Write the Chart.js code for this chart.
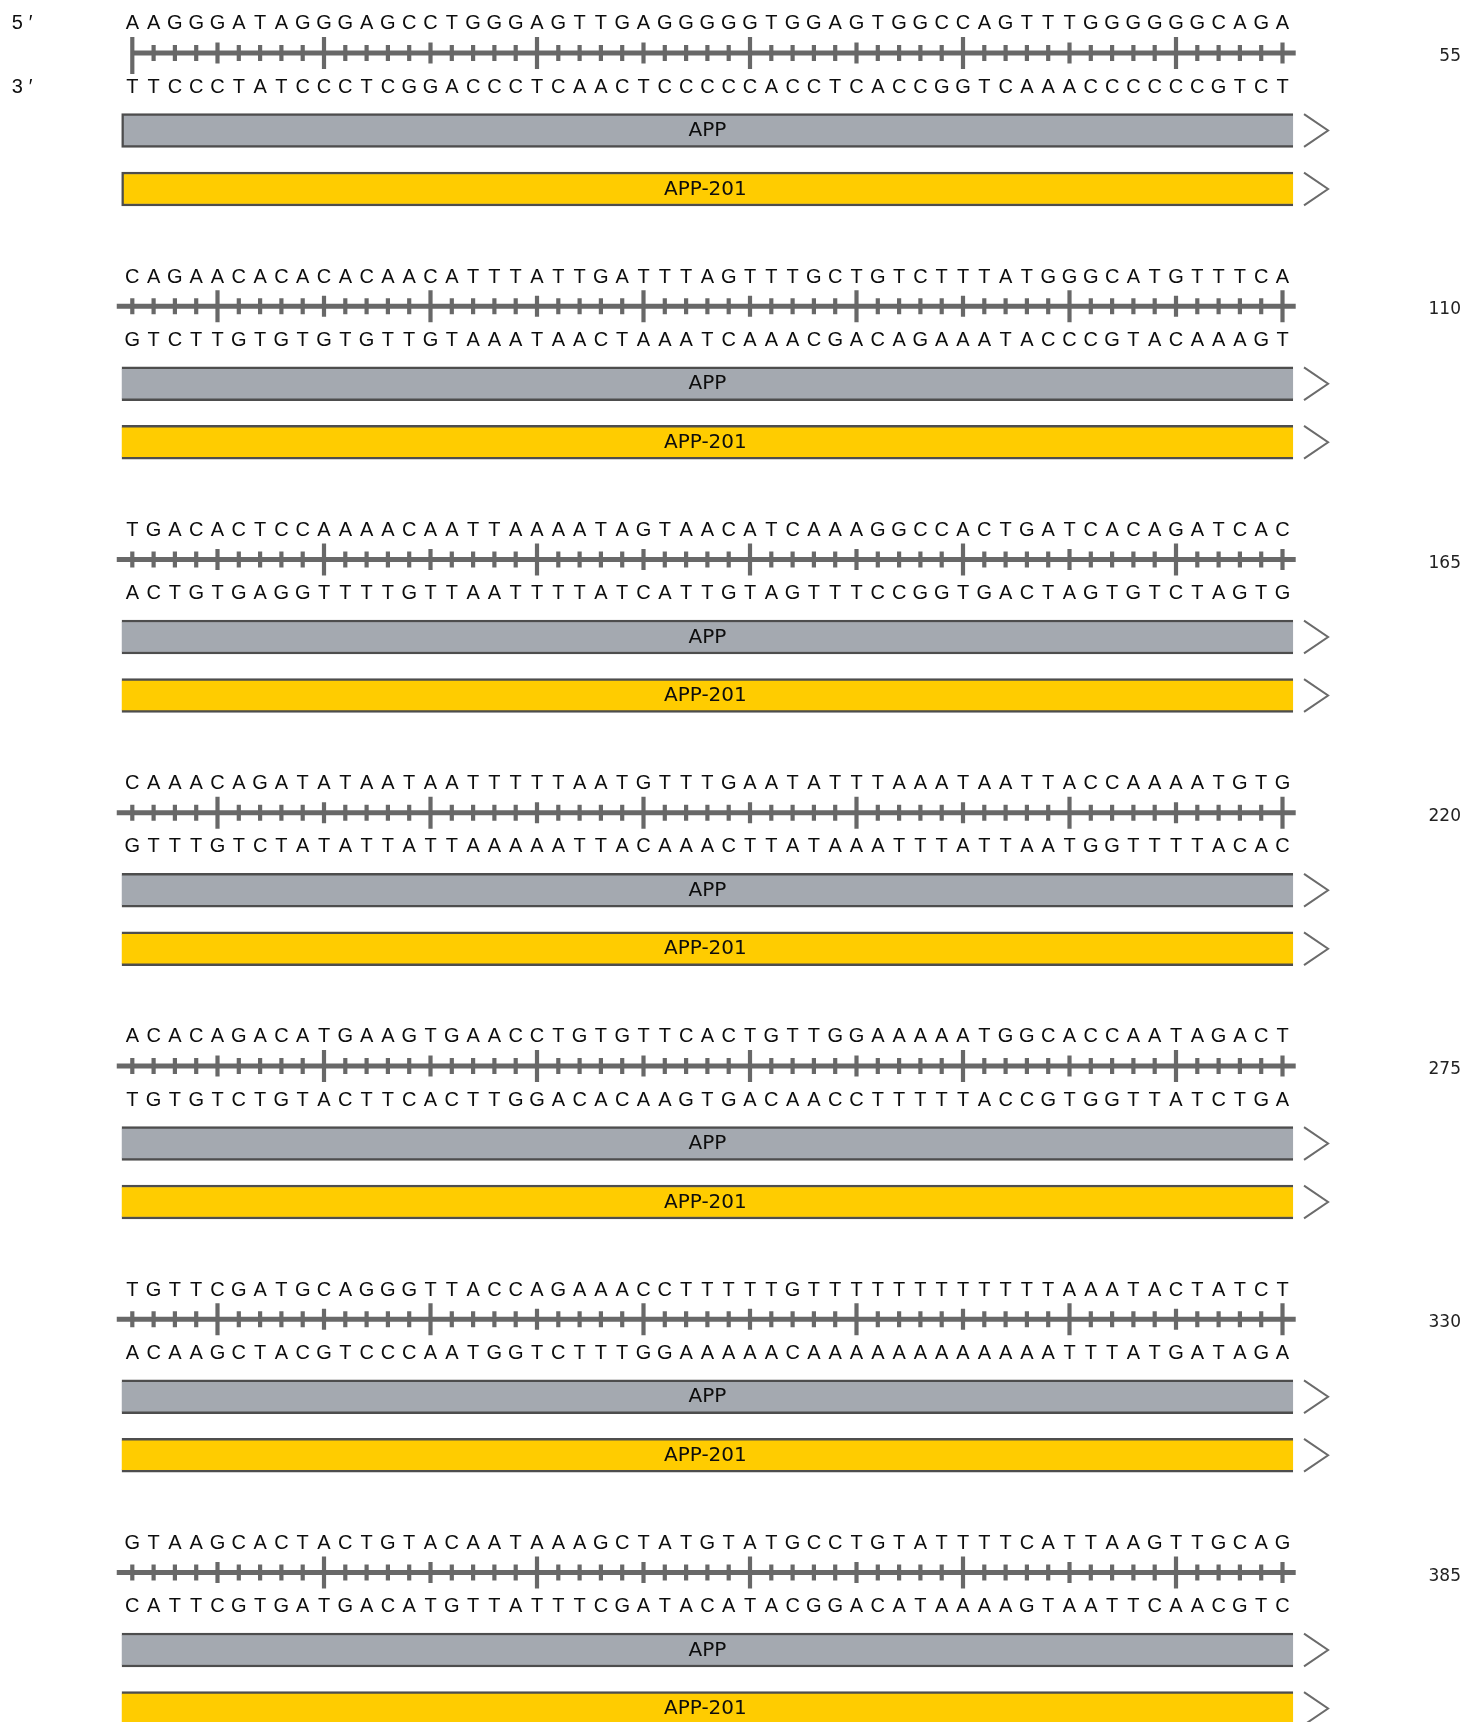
<!DOCTYPE html>
<html>
<head>
<meta charset="utf-8">
<title>APP sequence view</title>
<script src="https://cdn.jsdelivr.net/npm/chart.js@4.4.0/dist/chart.umd.min.js"></script>
<style>
  html, body { margin: 0; padding: 0; background: #fff; }
  canvas { display: block; }
</style>
</head>
<body>
<canvas id="seqChart" width="1466" height="1722"></canvas>
<script>
// Sequence data: one entry per displayed row (55 bases each)
const rowStarts = [1, 56, 111, 166, 221, 276, 331];
const rowEnds = [55, 110, 165, 220, 275, 330, 385];
const topStrand = [
    'AAGGGATAGGGAGCCTGGGAGTTGAGGGGGTGGAGTGGCCAGTTTGGGGGGCAGA',
    'CAGAACACACACAACATTTATTGATTTAGTTTGCTGTCTTTATGGGCATGTTTCA',
    'TGACACTCCAAAACAATTAAAATAGTAACATCAAAGGCCACTGATCACAGATCAC',
    'CAAACAGATATAATAATTTTTAATGTTTGAATATTTAAATAATTACCAAAATGTG',
    'ACACAGACATGAAGTGAACCTGTGTTCACTGTTGGAAAAATGGCACCAATAGACT',
    'TGTTCGATGCAGGGTTACCAGAAACCTTTTTGTTTTTTTTTTTTAAATACTATCT',
    'GTAAGCACTACTGTACAATAAAGCTATGTATGCCTGTATTTTCATTAAGTTGCAG'
];
// Annotated features (both start at base 1 and run past the last shown row)
const featureNames = ['APP', 'APP-201'];
const featureStarts = [1, 1];

// Layout (pixels), converted to scale units below
const BASES_PER_ROW = 55;
const PITCH = 21.3;            // px per base
const FIRST_BASE_X = 132.3;    // px centre of base 1 in a row
const ROW_PITCH = 253.25;      // px between rows
const X_MIN = 1 - FIRST_BASE_X / PITCH;
const X_MAX = X_MIN + 1466 / PITCH;
const Y_MAX = 1722 / ROW_PITCH;
const TOP_Y = 22.3 / ROW_PITCH;
const RULER_Y = 53 / ROW_PITCH;
const BOTTOM_Y = 85.5 / ROW_PITCH;
const FEATURE_Y = [130.5 / ROW_PITCH, 189 / ROW_PITCH];
const CHEVRON_H = 16.4 / ROW_PITCH;

const featureColors = ['#a4a9b0', '#ffcc00'];

const complement = { A: 'T', T: 'A', G: 'C', C: 'G' };
const bottomStrand = topStrand.map(s => s.split('').map(b => complement[b]).join(''));

// ruler baseline per row
const rulerData = [];
rowStarts.forEach((start, r) => {
    const y = r + RULER_Y;
    rulerData.push({ x: start === 1 ? 1 : 0.27, y: y }, { x: BASES_PER_ROW + 0.62, y: y }, { x: BASES_PER_ROW + 0.62, y: null });
});

// one tick per base, longer every 5th / 10th position
const tickData = [];
rowStarts.forEach((start, r) => {
    for (let i = 1; i <= BASES_PER_ROW; i++) {
        const pos = start + i - 1;
        tickData.push({ x: i, y: r + RULER_Y + (pos === 1 ? 2.5 / ROW_PITCH : 0), pos: pos });
    }
});

// strand direction chevrons at the end of each feature bar
const chevronData = [];
rowStarts.forEach((start, r) => {
    FEATURE_Y.forEach(fy => {
        const y = r + fy;
        chevronData.push({ x: 56.01, y: y - CHEVRON_H }, { x: 57.14, y: y }, { x: 56.01, y: y + CHEVRON_H }, { x: 56.01, y: null });
    });
});

const featureDatasets = featureNames.map((name, f) => ({
    type: 'bar',
    label: name,
    indexAxis: 'y',
    data: rowStarts.map((start, r) => ({
        x: [Math.max(featureStarts[f], start) - start + 0.5, BASES_PER_ROW + 0.5],
        y: r + FEATURE_Y[f]
    })),
    backgroundColor: featureColors[f],
    borderColor: '#4d4d4d',
    borderWidth: ctx => {
        const start = rowStarts[ctx.dataIndex];
        const left = start !== undefined && start <= featureStarts[f] ? 2.5 : 0;
        return { top: 2.5, bottom: 2.5, right: 0, left: left };
    },
    borderSkipped: false,
    barThickness: 34,
    grouped: false,
    order: 3
}));

// Letters, labels and row numbers placed via the chart scales
const seqTextPlugin = {
    id: 'seqText',
    afterDatasetsDraw(chart) {
        const { ctx, scales: { x, y } } = chart;
        ctx.save();
        ctx.fillStyle = '#0d0d0d';
        ctx.textAlign = 'center';
        ctx.textBaseline = 'alphabetic';

        ctx.font = '20px "Liberation Sans", Arial, sans-serif';
        topStrand.forEach((seq, r) => {
            for (let i = 0; i < seq.length; i++) {
                const px = x.getPixelForValue(i + 1);
                ctx.fillText(seq[i], px, y.getPixelForValue(r + TOP_Y) + 7);
                ctx.fillText(bottomStrand[r][i], px, y.getPixelForValue(r + BOTTOM_Y) + 7);
            }
        });

        // 5' / 3' strand ends
        ctx.textAlign = 'left';
        const lx = x.getPixelForValue(X_MIN + 11.7 / PITCH);
        ctx.fillText('5', lx, y.getPixelForValue(TOP_Y) + 7);
        ctx.fillText('3', lx, y.getPixelForValue(BOTTOM_Y) + 7);
        ctx.fillText('\u2032', lx + 17, y.getPixelForValue(TOP_Y) + 7);
        ctx.fillText('\u2032', lx + 17, y.getPixelForValue(BOTTOM_Y) + 7);

        // feature names on the bars
        ctx.textAlign = 'center';
        ctx.font = '20px "DejaVu Sans", Verdana, sans-serif';
        const cx = x.getPixelForValue((BASES_PER_ROW + 1) / 2);
        rowStarts.forEach((start, r) => {
            featureNames.forEach((name, f) => {
                ctx.fillText(name, cx - (f === 1 ? 2 : 0), y.getPixelForValue(r + FEATURE_Y[f]) + 5.5);
            });
        });

        // row end positions
        ctx.textAlign = 'right';
        ctx.fillStyle = '#222';
        ctx.font = '17px "DejaVu Sans", Verdana, sans-serif';
        const nx = x.getPixelForValue(X_MIN + 1461 / PITCH);
        rowEnds.forEach((end, r) => {
            ctx.fillText(String(end), nx, y.getPixelForValue(r + RULER_Y) + 8);
        });
        ctx.restore();
    }
};

new Chart(document.getElementById('seqChart'), {
    type: 'bar',
    data: {
        datasets: [
            ...featureDatasets,
            {
                type: 'line',
                label: 'ruler',
                data: rulerData,
                borderColor: '#686868',
                borderWidth: 5,
                pointRadius: 0,
                spanGaps: false,
                tension: 0,
                fill: false,
                borderCapStyle: 'butt',
                order: 2
            },
            {
                type: 'scatter',
                label: 'ticks',
                data: tickData,
                pointStyle: 'line',
                pointRotation: 90,
                pointRadius: ctx => {
                    const p = ctx.raw ? ctx.raw.pos : 0;
                    if (p === 1) return 18.5;
                    if (p % 10 === 0) return 16;
                    if (p % 5 === 0) return 10.5;
                    return 8;
                },
                pointBorderWidth: 4.2,
                pointBorderColor: '#686868',
                pointBackgroundColor: '#686868',
                order: 1
            },
            {
                type: 'line',
                label: 'direction',
                data: chevronData,
                borderColor: '#6b6b6b',
                borderWidth: 2,
                pointRadius: 0,
                spanGaps: false,
                tension: 0,
                fill: false,
                borderJoinStyle: 'miter',
                order: 1
            }
        ]
    },
    options: {
        responsive: false,
        animation: false,
        devicePixelRatio: 1,
        events: [],
        layout: { padding: 0, autoPadding: false },
        plugins: {
            legend: { display: false },
            tooltip: { enabled: false }
        },
        scales: {
            x: { type: 'linear', min: X_MIN, max: X_MAX, display: false, offset: false, beginAtZero: false },
            y: { type: 'linear', min: 0, max: Y_MAX, reverse: true, display: false, offset: false, beginAtZero: false }
        }
    },
    plugins: [seqTextPlugin]
});
</script>
</body>
</html>
